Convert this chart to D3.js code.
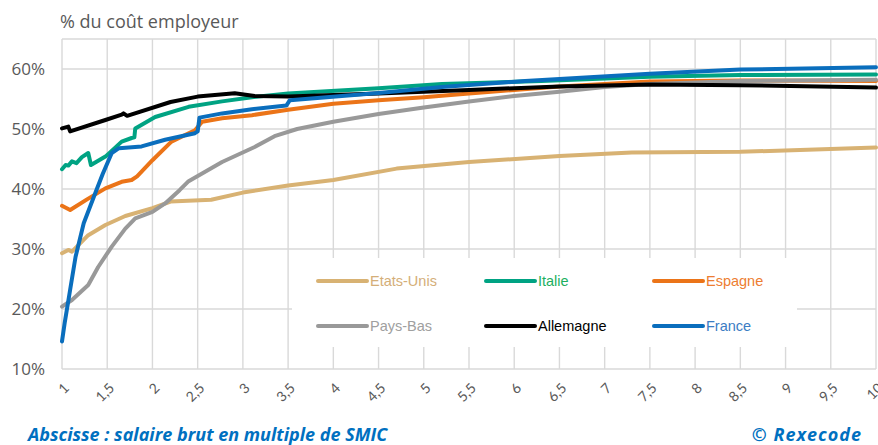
<!DOCTYPE html>
<html>
<head>
<meta charset="utf-8">
<script src="https://cdn.jsdelivr.net/npm/d3@7"></script>
<style>
  body { margin: 0; background: #fff; }
  svg { display: block; }
</style>
</head>
<body>
<div id="chart"></div>
<script>
// values: [multiple of SMIC, % of employer cost]
const etatsUnis = [[1,29.3],[1.07,29.85],[1.11,29.55],[1.29,32.3],[1.48,34],[1.7,35.5],[2,36.8],[2.2,37.9],[2.65,38.2],[3,39.4],[3.5,40.6],[4,41.5],[4.7,43.4],[5.5,44.5],[6.5,45.5],[7.3,46.1],[8.5,46.2],[10,46.9]];
const italie = [[1,43.3],[1.04,44],[1.07,43.9],[1.11,44.6],[1.16,44.3],[1.22,45.3],[1.29,46],[1.32,44],[1.48,45.4],[1.66,47.9],[1.77,48.5],[1.8,48.6],[1.81,50.1],[2.03,52],[2.4,53.7],[2.77,54.6],[3.1,55.3],[3.5,55.9],[4.5,56.8],[5.2,57.5],[6.3,58],[7.5,58.7],[8.5,59],[10,59.1]];
const espagne = [[1,37.2],[1.09,36.5],[1.29,38.4],[1.48,40.1],[1.66,41.2],[1.77,41.5],[1.83,42.1],[2,44.8],[2.21,47.9],[2.47,49.8],[2.51,50.5],[2.55,51.2],[2.77,51.8],[3.1,52.3],[3.5,53.2],[4,54.2],[4.5,54.8],[5,55.3],[5.5,55.9],[6,56.5],[6.5,57.1],[7.5,57.9],[8.5,58.1],[10,58]];
const paysBas = [[1,20.4],[1.11,21.5],[1.29,24],[1.4,27],[1.55,30.4],[1.7,33.4],[1.81,35.1],[2,36.2],[2.14,37.6],[2.3,39.8],[2.4,41.3],[2.77,44.5],[3.13,47],[3.35,48.8],[3.6,50],[4,51.2],[4.5,52.5],[5,53.6],[5.5,54.6],[6,55.5],[6.5,56.2],[7,57],[7.5,57.5],[8.5,58],[10,58.2]];
const allemagne = [[1,50.1],[1.07,50.4],[1.09,49.6],[1.48,51.5],[1.66,52.4],[1.68,52.6],[1.72,52.2],[2.2,54.5],[2.5,55.4],[2.91,55.95],[3.13,55.5],[3.5,55.4],[4.5,55.9],[5.5,56.5],[6.5,57.1],[7.5,57.4],[8.5,57.3],[10,56.9]];
const france = [[1,14.6],[1.03,17.7],[1.09,23.2],[1.15,28.7],[1.24,34.3],[1.38,39.8],[1.45,42.5],[1.55,46],[1.63,46.8],[1.88,47.1],[2.14,48.2],[2.47,49.3],[2.5,49.6],[2.52,51.9],[2.77,52.6],[3.1,53.3],[3.48,53.9],[3.52,54.8],[4.5,56],[5.2,57],[6.12,58],[7.5,59.2],[8.5,59.9],[10,60.3]];

const xTicks = d3.range(1, 10.01, 0.5);
const yTicks = [10, 20, 30, 40, 50, 60];

// draw order (last on top)
const series = [
    { name: 'Etats-Unis', data: etatsUnis, color: '#D8B273', text: '#D4AE78' },
    { name: 'Espagne', data: espagne, color: '#EB7418', text: '#ED7D31' },
    { name: 'Pays-Bas', data: paysBas, color: '#999999', text: '#A0A0A0' },
    { name: 'Italie', data: italie, color: '#00A383', text: '#1DAF5F' },
    { name: 'Allemagne', data: allemagne, color: '#000000', text: '#000000' },
    { name: 'France', data: france, color: '#0A6EBD', text: '#3C7DC4' }
];
const legendOrder = ['Etats-Unis', 'Italie', 'Espagne', 'Pays-Bas', 'Allemagne', 'France'];

const width = 878, height = 445;
const plot = { left: 62, right: 876, top: 39, bottom: 369 };
const grey = '#595959';
const axisFont = '"Open Sans", Lato, sans-serif';

const svg = d3.select('#chart').append('svg')
    .attr('width', width)
    .attr('height', height);

const x = d3.scaleLinear().domain([1, 10]).range([plot.left, plot.right]);
const y = d3.scaleLinear().domain([10, 65]).range([plot.bottom, plot.top]);

// grid
const grid = svg.append('g').attr('stroke', '#D9D9D9').attr('stroke-width', 1.4);
grid.selectAll('.vgrid')
    .data(xTicks)
    .enter().append('line')
    .attr('x1', d => x(d)).attr('x2', d => x(d))
    .attr('y1', plot.top).attr('y2', plot.bottom);
grid.selectAll('.hgrid')
    .data(yTicks.concat([65]))
    .enter().append('line')
    .attr('x1', plot.left).attr('x2', plot.right)
    .attr('y1', d => y(d)).attr('y2', d => y(d));

// y labels
svg.append('g')
    .selectAll('text')
    .data(yTicks)
    .enter().append('text')
    .attr('x', 45)
    .attr('y', d => y(d))
    .attr('dy', '0.36em')
    .attr('text-anchor', 'end')
    .attr('font-family', axisFont)
    .attr('font-size', 17)
    .attr('fill', grey)
    .text(d => d + '%');

// x labels, rotated
svg.append('g')
    .selectAll('text')
    .data(xTicks)
    .enter().append('text')
    .attr('transform', d => `translate(${x(d) + 1},${plot.bottom + 13}) rotate(-45)`)
    .attr('dy', '0.7em')
    .attr('text-anchor', 'end')
    .attr('font-family', 'Lato, sans-serif')
    .attr('font-size', 14)
    .attr('fill', grey)
    .text(d => String(d).replace('.', ','));

// title
svg.append('text')
    .attr('x', 60).attr('y', 28)
    .attr('font-family', axisFont)
    .attr('font-size', 18)
    .attr('fill', grey)
    .text('% du coût employeur');

// lines
const line = d3.line()
    .x(d => x(d[0]))
    .y(d => y(d[1]));

svg.append('g')
    .selectAll('path')
    .data(series)
    .enter().append('path')
    .attr('fill', 'none')
    .attr('stroke', d => d.color)
    .attr('stroke-width', 4)
    .attr('stroke-linejoin', 'round')
    .attr('stroke-linecap', 'round')
    .attr('d', d => line(d.data));

// legend
const legend = svg.append('g');
legend.append('rect')
    .attr('x', 292).attr('y', 258)
    .attr('width', 505).attr('height', 89)
    .attr('fill', '#fff');

const legendItems = legend.selectAll('.item')
    .data(legendOrder.map(n => series.find(s => s.name === n)))
    .enter().append('g')
    .attr('transform', (d, i) => `translate(${318 + (i % 3) * 168},${i < 3 ? 281 : 326})`);

legendItems.append('line')
    .attr('x1', 0).attr('x2', 49)
    .attr('stroke', d => d.color)
    .attr('stroke-width', 4)
    .attr('stroke-linecap', 'round');

legendItems.append('text')
    .attr('x', 52)
    .attr('dy', '0.35em')
    .attr('font-family', '"Liberation Sans", Arial, sans-serif')
    .attr('font-size', 14.5)
    .attr('fill', d => d.text)
    .text(d => d.name);

// footer
svg.append('text')
    .attr('x', 28).attr('y', 441)
    .attr('font-family', axisFont)
    .attr('font-size', 18)
    .attr('font-weight', 'bold')
    .attr('font-style', 'italic')
    .attr('fill', '#0070C0')
    .text('Abscisse : salaire brut en multiple de SMIC');

svg.append('text')
    .attr('x', 862).attr('y', 441)
    .attr('text-anchor', 'end')
    .attr('font-family', axisFont)
    .attr('font-size', 18)
    .attr('font-weight', 'bold')
    .attr('font-style', 'italic')
    .attr('letter-spacing', 1)
    .attr('fill', '#0070C0')
    .text('© Rexecode');
</script>
</body>
</html>
